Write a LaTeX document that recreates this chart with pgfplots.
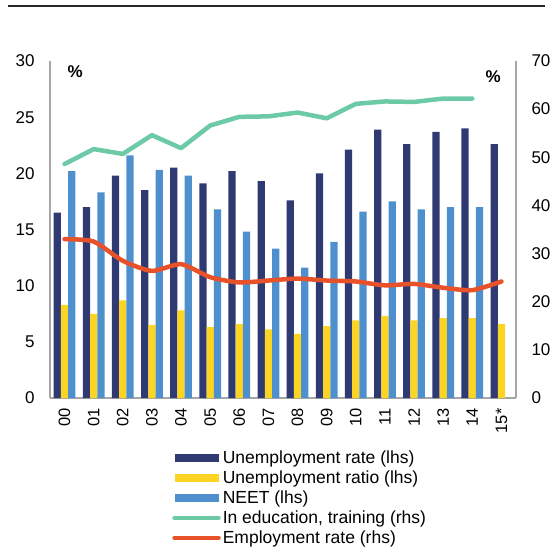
\documentclass[border=0pt]{standalone}
\usepackage{pgfplots}
\pgfplotsset{compat=1.18}
\usepackage{fontspec}
\setmainfont{Liberation Sans}

\definecolor{navy}{HTML}{2F3A73}
\definecolor{gold}{HTML}{FCD424}
\definecolor{neet}{HTML}{4E90CE}
\definecolor{edu}{HTML}{6DCAA7}
\definecolor{emp}{HTML}{E8522A}
\definecolor{axgray}{HTML}{A6A6A6}

\pgfplotsset{
  base/.style={
    at={(50pt,151pt)}, anchor=south west,
    scale only axis, width=466pt, height=337pt,
    xmin=-0.5, xmax=15.5,
    major tick length=0pt,
    axis line style={-, draw=axgray, line width=1.1pt},
    tick label style={font=\fontsize{17}{19}\selectfont},
    /pgf/number format/assume math mode=true,
  },
  barimg/.style={legend image code/.code={
    \fill[#1] (0pt,-4pt) rectangle (44pt,4pt);}},
  lineimg/.style={legend image code/.code={
    \draw[#1, line width=4.5pt, line cap=round] (0pt,0pt) -- (44pt,0pt);}},
}

\begin{document}
\begin{tikzpicture}[x=1pt,y=1pt]
\useasboundingbox (0,0) rectangle (553,549);
\draw[line width=1.5pt, black!85] (8,543) -- (545,543);

\begin{axis}[base,
    axis x line*=bottom, axis y line*=left,
    ymin=0, ymax=30, ytick={0,5,...,30},
    yticklabel style={xshift=-12pt},
    xtick={0,...,15},
    xticklabels={00,01,02,03,04,05,06,07,08,09,10,11,12,13,14,15*},
    xticklabel style={rotate=90, anchor=east, font=\fontsize{16.5}{18}\selectfont, xshift=-7pt},
    ybar, bar width=7.28pt,
    legend style={at={(0.262,-0.150)}, anchor=north west, draw=none, fill=none,
      inner sep=0pt, row sep=1.8pt, font=\fontsize{17.5}{19}\selectfont,
      legend cell align=left, /tikz/every even column/.style={column sep=4pt}},
  ]
\addplot[fill=navy, draw=none, bar shift=-7.28pt, barimg=navy] coordinates {
  (0,16.5) (1,17.0) (2,19.8) (3,18.5) (4,20.5) (5,19.1) (6,20.2) (7,19.3)
  (8,17.6) (9,20.0) (10,22.1) (11,23.9) (12,22.6) (13,23.7) (14,24.0) (15,22.6)};
\addlegendentry{Unemployment rate (lhs)}
\addplot[fill=gold, draw=none, bar shift=0pt, barimg=gold] coordinates {
  (0,8.3) (1,7.5) (2,8.7) (3,6.5) (4,7.8) (5,6.3) (6,6.6) (7,6.1)
  (8,5.7) (9,6.4) (10,6.9) (11,7.3) (12,6.9) (13,7.1) (14,7.1) (15,6.6)};
\addlegendentry{Unemployment ratio (lhs)}
\addplot[fill=neet, draw=none, bar shift=7.28pt, barimg=neet] coordinates {
  (0,20.2) (1,18.3) (2,21.6) (3,20.3) (4,19.8) (5,16.8) (6,14.8) (7,13.3)
  (8,11.6) (9,13.9) (10,16.6) (11,17.5) (12,16.8) (13,17.0) (14,17.0)};
\addlegendentry{NEET (lhs)}
\addlegendimage{lineimg=edu}
\addlegendentry{In education, training (rhs)}
\addlegendimage{lineimg=emp}
\addlegendentry{Employment rate (rhs)}
\node[font=\bfseries\fontsize{17}{19}\selectfont] at (rel axis cs:0.054,0.967) {\%};
\end{axis}

\begin{axis}[base,
    axis x line=none, axis y line*=right,
    ymin=0, ymax=70, ytick={0,10,...,70},
    yticklabel style={xshift=12pt},
  ]
\addplot[edu, line width=4.5pt, line cap=round, line join=round] coordinates {
  (0,48.6) (1,51.7) (2,50.7) (3,54.6) (4,51.9) (5,56.6) (6,58.4) (7,58.5)
  (8,59.3) (9,58.1) (10,61.1) (11,61.6) (12,61.5) (13,62.2) (14,62.2)};
\addplot[emp, line width=4.5pt, line cap=round, smooth, tension=0.4] coordinates {
  (0,33.0) (1,32.5) (2,28.5) (3,26.4) (4,27.8) (5,25.1) (6,24.0) (7,24.4)
  (8,24.8) (9,24.4) (10,24.2) (11,23.4) (12,23.7) (13,22.9) (14,22.4) (15,24.2)};
\node[font=\bfseries\fontsize{17}{19}\selectfont] at (rel axis cs:0.951,0.953) {\%};
\end{axis}
\end{tikzpicture}
\end{document}
